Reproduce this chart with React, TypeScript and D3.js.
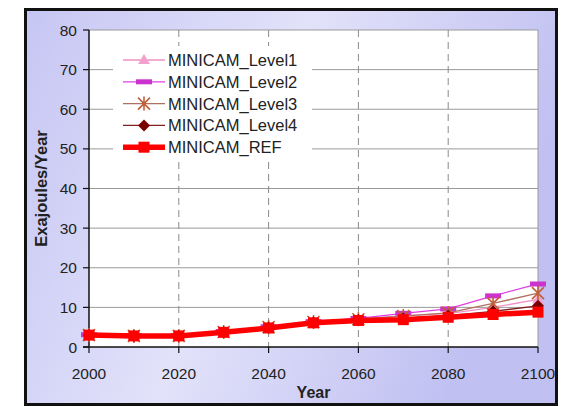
import React from "react";
import * as d3 from "d3";

const years = [2000, 2010, 2020, 2030, 2040, 2050, 2060, 2070, 2080, 2090, 2100];
const level1 = [3.0, 2.8, 2.8, 3.8, 5.0, 6.3, 7.0, 7.9, 8.4, 10.0, 12.0];
const level2 = [3.1, 2.9, 2.9, 3.9, 5.1, 6.4, 7.2, 8.5, 9.6, 12.9, 15.9];
const level3 = [3.0, 2.8, 2.8, 3.8, 5.0, 6.3, 7.0, 7.8, 8.6, 11.0, 13.6];
const level4 = [3.0, 2.8, 2.8, 3.7, 4.9, 6.2, 6.8, 7.2, 7.9, 9.0, 10.4];
const ref = [3.0, 2.8, 2.8, 3.7, 4.8, 6.1, 6.7, 6.9, 7.5, 8.2, 8.8];
const seriesNames = ["MINICAM_Level1", "MINICAM_Level2", "MINICAM_Level3", "MINICAM_Level4", "MINICAM_REF"];
const yTicks = [0, 10, 20, 30, 40, 50, 60, 70, 80];
const xTicks = [2000, 2020, 2040, 2060, 2080, 2100];
const xGrid = [2020, 2040, 2060, 2080];

type Style = { line: string; width: number; fill: string; kind: string };
const styles: Style[] = [
  { line: "#f090c4", width: 1.3, fill: "#f4a2cc", kind: "tri" },
  { line: "#e040e0", width: 1.3, fill: "#cc33cc", kind: "dash" },
  { line: "#b07060", width: 1.3, fill: "#c0603a", kind: "star" },
  { line: "#802020", width: 1.3, fill: "#7a0000", kind: "diamond" },
  { line: "#ff0000", width: 5.5, fill: "#ff0000", kind: "square" },
];

function Marker({ kind, x, y, fill }: { kind: string; x: number; y: number; fill: string }) {
  switch (kind) {
    case "tri":
      return <path d={`M${x},${y - 6}L${x + 6},${y + 4}L${x - 6},${y + 4}Z`} fill={fill} />;
    case "dash":
      return <rect x={x - 8} y={y - 2.5} width={16} height={5} fill={fill} />;
    case "star":
      return (
        <path
          d={`M${x - 6},${y - 6}L${x + 6},${y + 6}M${x - 6},${y + 6}L${x + 6},${y - 6}M${x},${y - 7}L${x},${y + 7}`}
          stroke={fill}
          strokeWidth={1.6}
          fill="none"
        />
      );
    case "diamond":
      return <path d={`M${x},${y - 6}L${x + 6},${y}L${x},${y + 6}L${x - 6},${y}Z`} fill={fill} />;
    default:
      return <rect x={x - 5.5} y={y - 5.5} width={11} height={11} fill={fill} />;
  }
}

export default function App() {
  const W = 567, H = 406;
  const x = d3.scaleLinear().domain([2000, 2100]).range([89, 538]);
  const y = d3.scaleLinear().domain([0, 80]).range([347, 30]);
  const data = [level1, level2, level3, level4, ref];
  const line = d3
    .line<number>()
    .x((_, i) => x(years[i]))
    .y((d) => y(d));
  const font = "Arial, 'Liberation Sans', sans-serif";
  const legendX0 = 123, legendX1 = 165, legendMx = 144, legendTx = 168;
  const legendY = (i: number) => 60 + i * 21.8;

  return (
    <svg width={W} height={H} style={{ position: "absolute", left: 0, top: 0 }} fontFamily={font}>
      <defs>
        <linearGradient id="bg" x1="0" y1="0" x2="1" y2="0.3">
          <stop offset="0" stopColor="#c6c6f4" />
          <stop offset="0.5" stopColor="#e2e2fa" />
          <stop offset="1" stopColor="#c0c0f2" />
        </linearGradient>
      </defs>
      <rect x={0} y={0} width={W} height={H} fill="#ffffff" />
      <rect x={25.5} y={9.5} width={531} height={395} fill="url(#bg)" stroke="#111" strokeWidth={3} />
      <rect x={x(2000)} y={y(80)} width={x(2100) - x(2000)} height={y(0) - y(80)} fill="#ffffff" />
      {yTicks.filter((t) => t > 0).map((t) => (
        <line key={t} x1={x(2000)} x2={x(2100)} y1={y(t)} y2={y(t)} stroke="#9a9a9a" strokeWidth={1} />
      ))}
      {xGrid.map((t) => (
        <line key={t} x1={x(t)} x2={x(t)} y1={y(80)} y2={y(0)} stroke="#8a8a8a" strokeWidth={1} strokeDasharray="7,5" />
      ))}
      <line x1={x(2100)} x2={x(2100)} y1={y(80)} y2={y(0)} stroke="#9a9a9a" strokeWidth={1} />
      <rect x={113} y={46} width={199} height={116} fill="#ffffff" />
      <line x1={x(2000)} x2={x(2000)} y1={y(80)} y2={y(0)} stroke="#111" strokeWidth={1.5} />
      <line x1={x(2000) - 6} x2={x(2100)} y1={y(0)} y2={y(0)} stroke="#111" strokeWidth={1.5} />
      {yTicks.map((t) => (
        <g key={t}>
          <line x1={x(2000) - 6} x2={x(2000)} y1={y(t)} y2={y(t)} stroke="#111" strokeWidth={1.2} />
          <text x={77} y={y(t)} textAnchor="end" dominantBaseline="central" fontSize={15.5} fill="#222">
            {t}
          </text>
        </g>
      ))}
      {xTicks.map((t) => (
        <g key={t}>
          <line x1={x(t)} x2={x(t)} y1={y(0)} y2={y(0) + 6} stroke="#111" strokeWidth={1.2} />
          <text x={x(t)} y={373} textAnchor="middle" dominantBaseline="central" fontSize={15.5} fill="#222">
            {t}
          </text>
        </g>
      ))}
      <text x={x(2050)} y={392} textAnchor="middle" dominantBaseline="central" fontSize={16} fontWeight="bold" fill="#222">
        Year
      </text>
      <text
        transform={`translate(41,${(y(0) + y(80)) / 2}) rotate(-90)`}
        textAnchor="middle"
        dominantBaseline="central"
        fontSize={16.5}
        fontWeight="bold"
        fill="#222"
      >
        Exajoules/Year
      </text>
      {data.map((vals, si) => (
        <g key={si}>
          <path d={line(vals) || ""} fill="none" stroke={styles[si].line} strokeWidth={styles[si].width} strokeLinejoin="round" />
          {vals.map((v, i) => (
            <Marker key={i} kind={styles[si].kind} x={x(years[i])} y={y(v)} fill={styles[si].fill} />
          ))}
        </g>
      ))}
      {seriesNames.map((n, i) => (
        <g key={n}>
          <line x1={legendX0} x2={legendX1} y1={legendY(i)} y2={legendY(i)} stroke={styles[i].line} strokeWidth={styles[i].width} />
          <Marker kind={styles[i].kind} x={legendMx} y={legendY(i)} fill={styles[i].fill} />
          <text x={legendTx} y={legendY(i)} dominantBaseline="central" fontSize={16.5} fill="#222">
            {n}
          </text>
        </g>
      ))}
    </svg>
  );
}
